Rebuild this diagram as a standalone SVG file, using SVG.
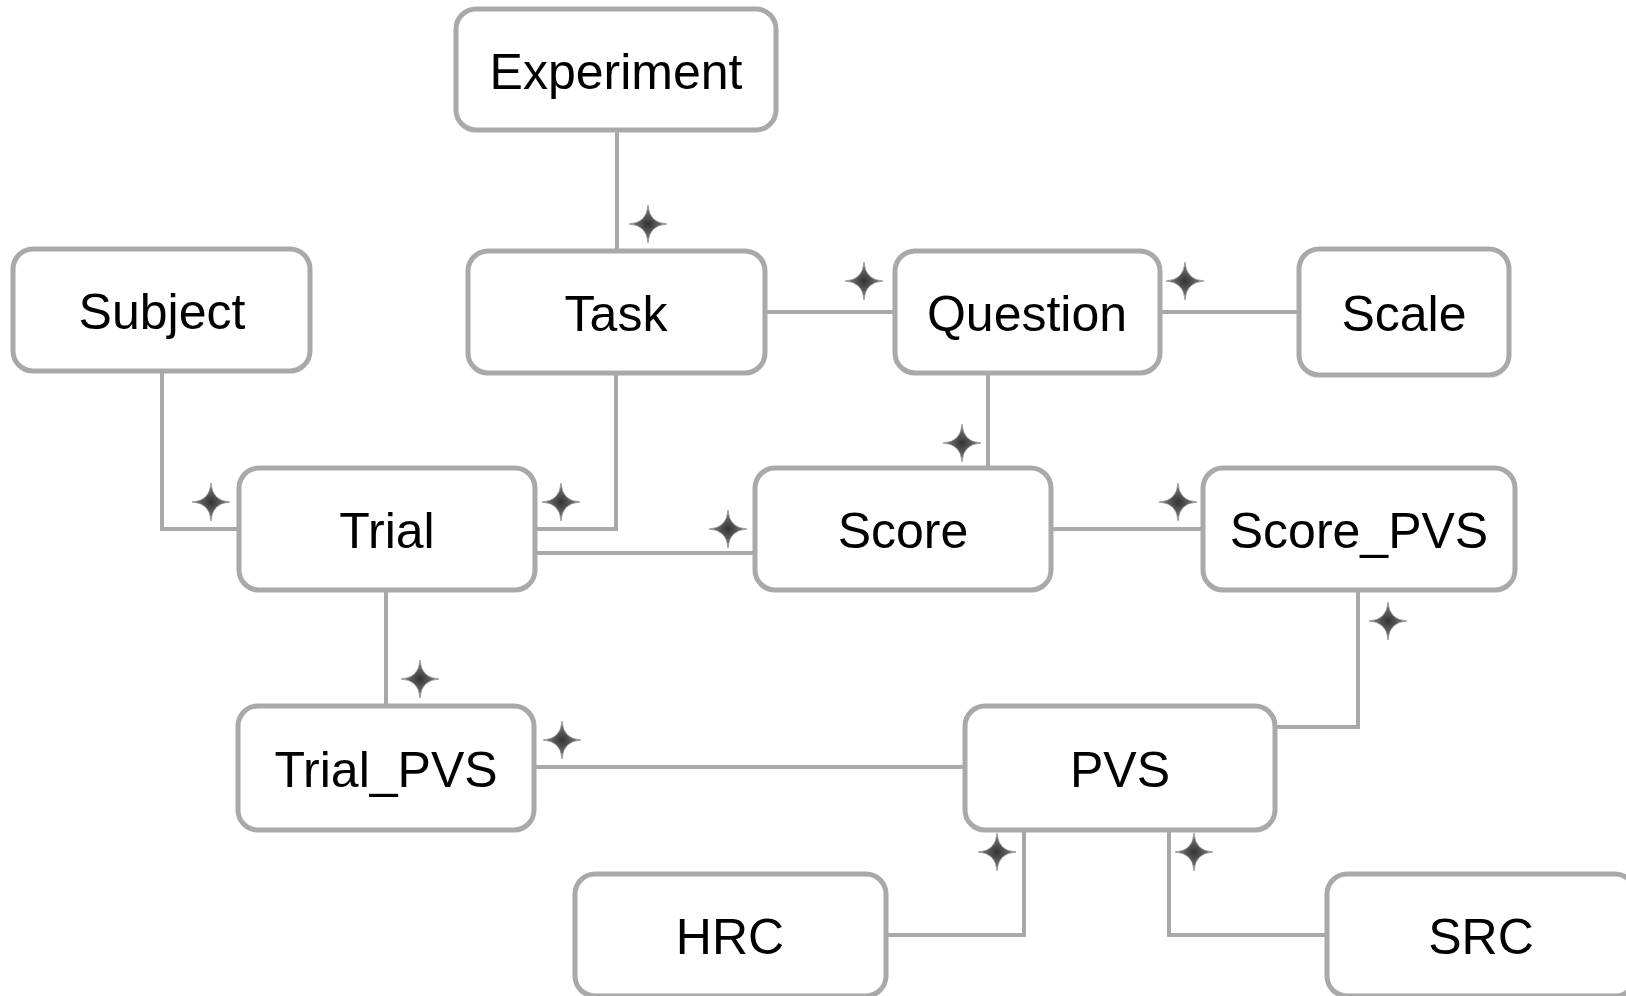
<svg xmlns="http://www.w3.org/2000/svg" width="1626" height="996" viewBox="0 0 1626 996">
<style>
.box{fill:#fff;stroke:#a9a9a9;stroke-width:5}
.lbl{font-family:"Liberation Sans",Arial,sans-serif;font-size:50px;fill:#000;text-anchor:middle}
.con{fill:none;stroke:#a9a9a9;stroke-width:4}
</style>
<defs>
<radialGradient id="sg" cx="0.5" cy="0.5" r="0.5">
<stop offset="0" stop-color="#333"/>
<stop offset="1" stop-color="#888"/>
</radialGradient>
<path id="star" d="M0,-19 Q1,-1 19,0 Q1,1 0,19 Q-1,1 -19,0 Q-1,-1 0,-19 Z" fill="url(#sg)" stroke="#777" stroke-width="0.6"/>
</defs>
<rect width="1626" height="996" fill="#fff"/>
<g id="connectors">
<path class="con" d="M617,130 V251"/>
<path class="con" d="M765,312 H895"/>
<path class="con" d="M1160,312 H1299"/>
<path class="con" d="M162,371 V529 H239"/>
<path class="con" d="M616,373 V529 H535"/>
<path class="con" d="M988,373 V468"/>
<path class="con" d="M535,553 H755"/>
<path class="con" d="M1051,529 H1203"/>
<path class="con" d="M386,590 V706"/>
<path class="con" d="M534,767 H965"/>
<path class="con" d="M1358,590 V727 H1275"/>
<path class="con" d="M1024,830 V935 H886"/>
<path class="con" d="M1169,825 V935 H1327"/>
<use href="#star" x="648" y="224"/>
<use href="#star" x="864" y="281"/>
<use href="#star" x="1185" y="281"/>
<use href="#star" x="211" y="502"/>
<use href="#star" x="561" y="502"/>
<use href="#star" x="962" y="443"/>
<use href="#star" x="728" y="529"/>
<use href="#star" x="1178" y="502"/>
<use href="#star" x="420" y="679"/>
<use href="#star" x="562" y="740"/>
<use href="#star" x="1388" y="621"/>
<use href="#star" x="997" y="852"/>
<use href="#star" x="1194" y="852"/>
</g>
<g id="experiment"><rect class="box" x="456" y="9" width="320" height="121" rx="20"/><text class="lbl" x="616" y="89">Experiment</text></g>
<g id="subject"><rect class="box" x="13" y="249" width="297" height="122" rx="20"/><text class="lbl" x="162" y="329">Subject</text></g>
<g id="task"><rect class="box" x="468" y="251" width="297" height="122" rx="20"/><text class="lbl" x="616" y="331">Task</text></g>
<g id="question"><rect class="box" x="895" y="251" width="265" height="122" rx="20"/><text class="lbl" x="1027" y="331">Question</text></g>
<g id="scale"><rect class="box" x="1299" y="249" width="210" height="126" rx="20"/><text class="lbl" x="1404" y="331">Scale</text></g>
<g id="trial"><rect class="box" x="239" y="468" width="296" height="122" rx="20"/><text class="lbl" x="387" y="548">Trial</text></g>
<g id="score"><rect class="box" x="755" y="468" width="296" height="122" rx="20"/><text class="lbl" x="903" y="548">Score</text></g>
<g id="score_pvs"><rect class="box" x="1203" y="468" width="312" height="122" rx="20"/><text class="lbl" x="1359" y="548">Score_PVS</text></g>
<g id="trial_pvs"><rect class="box" x="238" y="706" width="296" height="124" rx="20"/><text class="lbl" x="386" y="787">Trial_PVS</text></g>
<g id="pvs"><rect class="box" x="965" y="706" width="310" height="124" rx="20"/><text class="lbl" x="1120" y="787">PVS</text></g>
<g id="hrc"><rect class="box" x="575" y="874" width="311" height="122" rx="20"/><text class="lbl" x="730" y="954">HRC</text></g>
<g id="src"><rect class="box" x="1327" y="874" width="308" height="122" rx="20"/><text class="lbl" x="1481" y="954">SRC</text></g>
</svg>
